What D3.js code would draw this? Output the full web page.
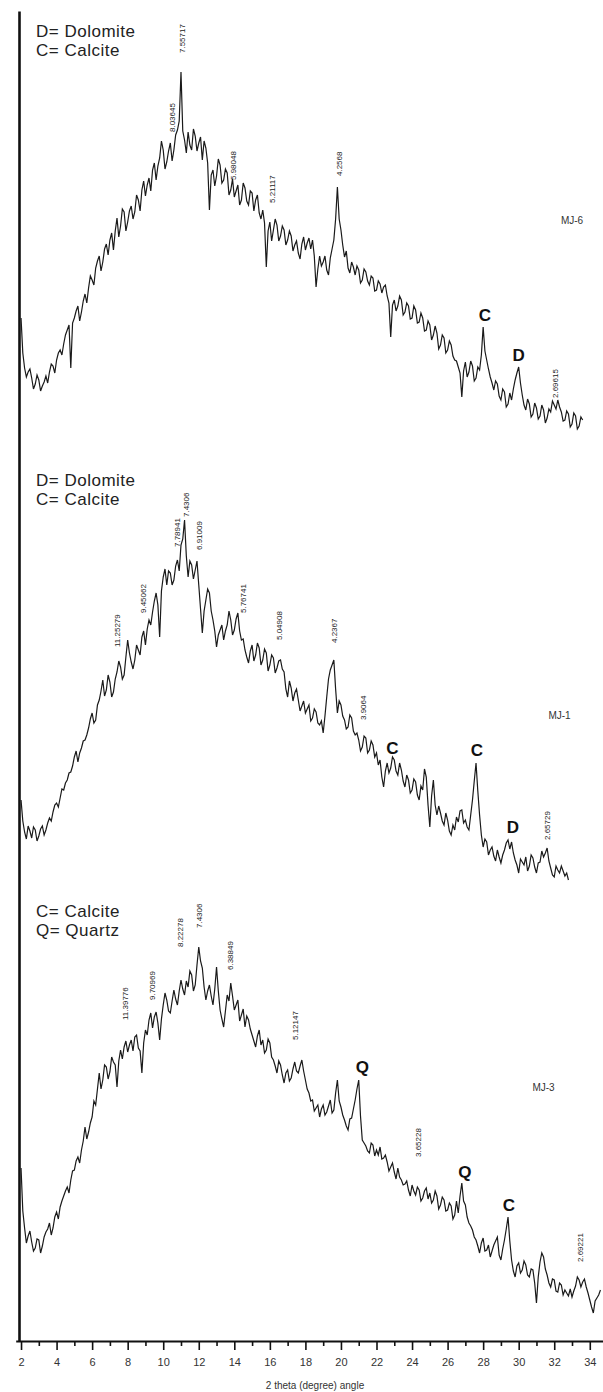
<!DOCTYPE html>
<html>
<head>
<meta charset="utf-8">
<script src="https://cdn.jsdelivr.net/npm/d3@7"></script>
<style>
  body { margin: 0; background: #fff; }
  svg { display: block; font-family: "Liberation Sans", Arial, sans-serif; }
</style>
</head>
<body>
<div id="chart"></div>
<script>
// 2 theta grid of the scans
var startAngle = 2.0;
var stepAngle = 0.1;

// MJ-6 counts (top scan)
var mj6 = [163,128,113,104,109,112,103,92,97,106,101,90,95,99,105,98,109,117,115,108,121,128,131,126,137,146,151,156,113,158,163,170,175,160,169,180,187,178,193,205,
  201,196,213,220,225,210,219,232,237,226,241,248,231,250,263,244,255,272,269,250,259,270,275,262,269,286,281,270,291,300,285,296,303,290,311,318,301,315,323,340,
  331,312,319,330,338,320,331,346,351,360,409,350,341,328,349,336,331,352,345,330,338,344,321,340,333,318,271,306,311,295,305,322,316,298,301,312,308,286,291,302,
  284,290,296,276,281,298,293,280,276,290,288,270,281,286,268,262,271,258,214,250,259,240,251,262,256,240,245,255,251,236,241,250,245,230,236,240,228,222,237,244,
  231,238,243,232,241,225,194,212,225,215,219,225,211,206,223,232,241,262,294,262,251,236,224,230,213,208,219,214,206,215,211,198,201,212,209,200,196,205,203,190,
  191,200,197,188,194,196,185,178,144,176,181,170,175,185,181,166,169,178,175,162,163,175,171,158,159,168,163,150,151,160,156,141,146,155,148,132,136,146,143,128,
  131,140,136,125,121,120,114,108,84,110,119,104,109,120,115,100,103,114,111,126,154,130,121,112,104,98,91,100,97,85,81,92,89,74,77,88,81,92,101,108,
  114,98,86,76,71,82,77,64,67,78,73,62,65,76,71,58,63,72,69,80,76,72,81,74,69,60,61,70,67,54,57,68,65,52,55,64,61];

// MJ-1 counts (middle scan)
var mj1 = [101,80,69,62,75,70,63,74,71,60,65,72,75,66,71,78,83,80,89,96,98,94,103,112,111,118,121,128,129,135,144,150,139,148,153,160,161,166,173,182,
  188,178,181,196,201,210,221,205,211,226,219,204,209,222,229,240,234,222,226,244,261,248,239,232,241,256,251,246,264,270,256,272,281,276,289,300,308,296,264,310,
  324,332,316,330,328,316,321,335,341,330,356,362,381,345,324,340,336,322,331,340,316,292,268,290,301,312,308,290,281,270,254,266,271,276,261,270,276,290,281,266,
  271,282,288,270,261,262,251,244,238,250,256,240,246,258,253,236,241,252,248,230,236,246,243,228,233,240,241,232,229,212,204,220,213,200,208,212,201,190,195,200,
  188,192,196,180,183,192,189,178,176,180,168,185,204,222,231,236,241,212,188,200,196,185,181,172,174,186,183,170,166,168,161,150,154,165,163,148,151,160,156,144,
  148,136,141,124,114,130,138,128,133,144,141,130,126,138,131,120,114,126,121,108,111,122,119,106,101,115,111,132,124,96,74,105,121,96,86,95,88,80,76,88,
  81,70,66,76,71,84,79,90,91,78,81,74,71,86,101,120,138,110,86,66,54,62,59,46,51,54,45,40,51,44,38,46,51,58,61,52,59,48,41,36,
  28,42,39,36,44,30,35,46,43,34,28,38,39,50,44,48,53,40,33,26,24,35,31,28,35,30,25,28,21];

// MJ-3 counts (bottom scan)
var mj3 = [173,130,113,98,105,110,99,90,93,102,101,88,95,104,109,112,118,106,113,124,129,122,134,140,145,150,154,148,161,170,171,180,184,178,191,200,214,202,209,218,
  224,240,236,252,268,252,261,276,274,262,269,284,279,276,254,280,291,282,294,300,289,296,301,290,304,306,293,290,268,298,311,306,321,328,313,324,329,318,301,322,
  336,348,341,330,328,340,351,342,336,350,361,352,346,360,354,370,366,350,356,376,394,380,373,354,341,350,356,345,336,352,374,350,331,322,314,330,346,340,358,345,
  331,336,341,320,326,332,314,325,321,312,306,300,294,305,311,296,301,288,291,302,298,284,281,275,268,280,276,266,258,268,271,260,263,272,279,270,268,275,281,270,
  261,252,248,240,241,230,233,236,224,232,236,226,229,235,241,228,231,248,261,240,234,226,221,215,211,222,223,232,241,252,261,225,201,198,195,190,188,198,196,185,
  191,186,194,182,183,186,179,170,174,178,169,162,173,164,161,156,157,160,151,145,156,150,146,154,151,140,143,150,153,142,148,138,141,150,145,132,136,144,141,130,
  131,138,135,122,126,140,128,145,158,140,136,124,118,115,111,104,101,95,88,98,103,90,91,96,84,90,96,100,104,86,81,92,101,112,124,100,81,70,64,75,
  78,68,71,80,76,66,64,72,71,58,38,64,79,88,84,72,66,58,54,62,61,50,49,58,56,46,51,48,45,52,44,50,55,64,61,54,59,62,54,48,
  41,34,28,40,43,46,51];

var sampleNames = ["MJ-6", "MJ-1", "MJ-3"];
var sampleOffsets = [860, 440, 0];
var sampleNameAngle = [33.0, 32.3, 31.4];
var sampleNameLevel = [257, 182, 250];

// peak d-spacings written above the scans
var peaks6 = ["8.03645", "7.55717", "5.98048", "5.21117", "4.2568", "2.69615"];
var peakAngles6 = [10.49, 11.05, 13.92, 16.12, 19.89, 32.03];
var peakLevels6 = [349, 428, 301, 278, 305, 83];

var peaks1 = ["11.25279", "9.45062", "7.78941", "7.4306", "6.91009", "5.76741", "5.04908", "4.2367", "3.9064", "2.65729"];
var peakAngles1 = [7.4, 8.86, 10.77, 11.28, 12.01, 14.49, 16.51, 19.6, 21.24, 31.58];
var peakLevels1 = [254, 288, 354, 384, 351, 288, 261, 258, 181, 61];

var peaks3 = ["11.39776", "9.70969", "8.22278", "7.4306", "6.38849", "5.12147", "3.65228", "2.69221"];
var peakAngles3 = [7.85, 9.37, 10.94, 12.01, 13.75, 17.41, 24.33, 33.44];
var peakLevels3 = [321, 341, 394, 413, 371, 301, 184, 79];

// mineral letters
var phases6 = ["C", "D"];
var phaseAngles6 = [28.1, 30.0];
var phaseLevels6 = [160, 120];
var phases1 = ["C", "C", "D"];
var phaseAngles1 = [22.9, 27.65, 29.67];
var phaseLevels1 = [147, 145, 68];
var phases3 = ["Q", "Q", "C"];
var phaseAngles3 = [21.2, 26.97, 29.45];
var phaseLevels3 = [268, 163, 130];

var legends = [["D= Dolomite", "C= Calcite"], ["D= Dolomite", "C= Calcite"], ["C= Calcite", "Q= Quartz"]];
var legendLevels = [444, 415, 424];

var majorTicks = [2,4,6,8,10,12,14,16,18,20,22,24,26,28,30,32,34];
var minorTicks = [3,5,7,9,11,13,15,17,19,21,23,25,27,29,31,33];

var width = 603, height = 1392;

var svg = d3.select("#chart").append("svg")
  .attr("width", width)
  .attr("height", height);

var x = d3.scaleLinear().domain([1.7, 34.8]).range([15.7, 604]);
var y = d3.scaleLinear().domain([0, 1330]).range([1341, 11]);

// axes
svg.append("g")
  .attr("transform", "translate(0,1341)")
  .call(d3.axisBottom(x).tickValues(minorTicks).tickSize(5).tickSizeOuter(0).tickFormat(""))
  .call(function(g) { g.select(".domain").remove(); })
  .selectAll("line").attr("stroke", "#111").attr("stroke-width", 1.6);

var xg = svg.append("g")
  .attr("transform", "translate(0,1341)")
  .call(d3.axisBottom(x).tickValues(majorTicks).tickSize(9).tickSizeOuter(0).tickPadding(8));
xg.select(".domain").attr("stroke", "#111").attr("stroke-width", 2);
xg.selectAll(".tick line").attr("stroke", "#111").attr("stroke-width", 1.6);
xg.selectAll(".tick text")
  .style("font-size", "11px")
  .style("font-family", "Liberation Sans, Arial, sans-serif")
  .attr("fill", "#333");

svg.append("text")
  .attr("x", 315)
  .attr("y", 1389)
  .style("text-anchor", "middle")
  .style("font-size", "10px")
  .attr("fill", "#333")
  .text("2 theta (degree) angle");

var yg = svg.append("g")
  .attr("transform", "translate(19,0)")
  .call(d3.axisLeft(y).ticks(0).tickSizeOuter(0));
yg.select(".domain").attr("stroke", "#111").attr("stroke-width", 2.6);

var scans = [mj6, mj1, mj3];
var peakSets = [[peaks6, peakAngles6, peakLevels6], [peaks1, peakAngles1, peakLevels1], [peaks3, peakAngles3, peakLevels3]];
var phaseSets = [[phases6, phaseAngles6, phaseLevels6], [phases1, phaseAngles1, phaseLevels1], [phases3, phaseAngles3, phaseLevels3]];

scans.forEach(function(scan, k) {
  var off = sampleOffsets[k];
  var line = d3.line()
    .x(function(d, i) { return x(startAngle + i * stepAngle); })
    .y(function(d) { return y(d + off); });

  svg.append("path")
    .datum(scan)
    .attr("fill", "none")
    .attr("stroke", "#1a1a1a")
    .attr("stroke-width", 1.2)
    .attr("d", line);

  // d-spacing labels, rotated
  var ps = peakSets[k];
  ps[0].forEach(function(lab, j) {
    var px = x(ps[1][j]), py = y(ps[2][j] + off);
    svg.append("text")
      .attr("transform", "translate(" + px + "," + py + ") rotate(-90)")
      .attr("dy", "0.35em")
      .style("font-size", "8px")
      .attr("fill", "#222")
      .text(lab);
  });

  // phase letters
  var ph = phaseSets[k];
  ph[0].forEach(function(lab, j) {
    svg.append("text")
      .attr("x", x(ph[1][j]))
      .attr("y", y(ph[2][j] + off))
      .style("text-anchor", "middle")
      .style("font-size", "17px")
      .style("font-weight", "bold")
      .attr("fill", "#111")
      .text(lab);
  });

  // legend
  legends[k].forEach(function(t, j) {
    svg.append("text")
      .attr("x", 36)
      .attr("y", y(legendLevels[k] + off) + j * 19)
      .style("font-size", "17px")
      .style("letter-spacing", "0.5px")
      .attr("fill", "#222")
      .text(t);
  });

  svg.append("text")
    .attr("x", x(sampleNameAngle[k]))
    .attr("y", y(sampleNameLevel[k] + off))
    .style("text-anchor", "middle")
    .style("font-size", "10px")
    .attr("fill", "#333")
    .text(sampleNames[k]);
});
</script>
</body>
</html>
